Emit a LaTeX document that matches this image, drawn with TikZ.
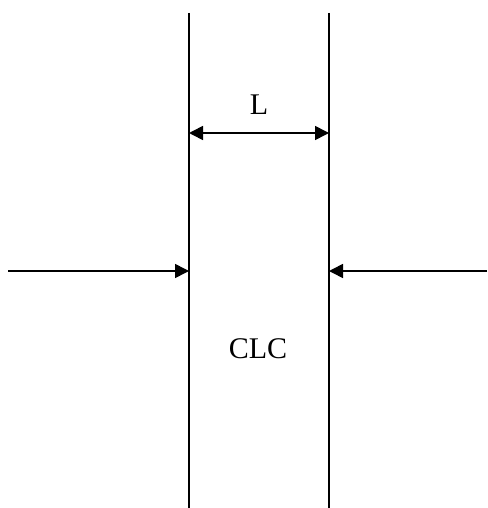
\documentclass[tikz,border=0pt]{standalone}
\usepackage{fontspec}
\setmainfont{Liberation Serif}
\usetikzlibrary{arrows.meta, positioning, calc}
\tikzset{
  wall/.style={line width=2pt, black},
  arrowF/.style={-{Triangle[length=14pt, width=14pt]}, line width=1.6pt, black},
  arrowDim/.style={{Triangle[length=14pt, width=14pt]}-{Triangle[length=14pt, width=14pt]}, line width=1.6pt, black},
  lbl/.style={font=\fontsize{30}{36}\selectfont, inner sep=0pt},
}

\begin{document}
\begin{tikzpicture}[x=1pt, y=-1pt]
    \useasboundingbox (0,0) rectangle (487,508);
    % walls of the layer
    \coordinate (lt) at (189,13);
    \coordinate (lb) at (189,508);
    \coordinate (rt) at (329,13);
    \coordinate (rb) at (329,508);
    \draw[wall] (lt) -- (lb);
    \draw[wall] (rt) -- (rb);
    % thickness
    \coordinate (dl) at (189,133);
    \coordinate (dr) at (329,133);
    \draw[arrowDim] (dl) -- (dr);
    \node[lbl] (thick) at (259,105) {L};
    % incoming arrows
    \coordinate (inL) at (8,271);
    \coordinate (hitL) at (189,271);
    \coordinate (inR) at (487,271);
    \coordinate (hitR) at (329,271);
    \draw[arrowF] (inL) -- (hitL);
    \draw[arrowF] (inR) -- (hitR);
    \node[lbl] (clc) at (258,349) {CLC};
  \end{tikzpicture}
\end{document}
